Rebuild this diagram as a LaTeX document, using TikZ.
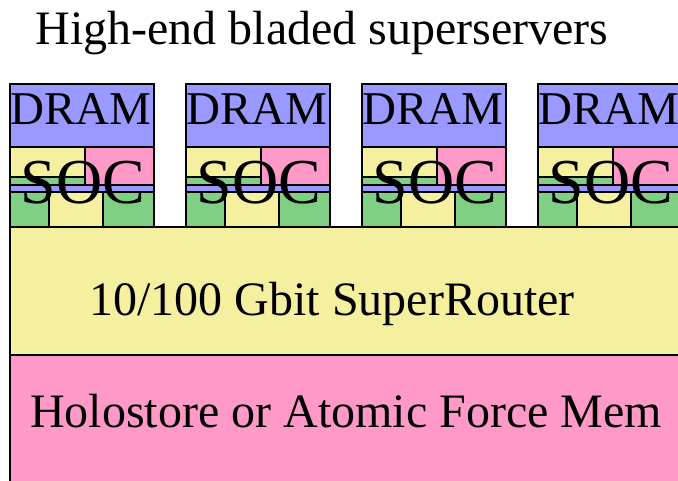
\documentclass[tikz,border=0pt]{standalone}
\usepackage{fontspec}
\setmainfont{Liberation Serif}
\definecolor{dramblue}{HTML}{9999FF}
\definecolor{socyellow}{HTML}{F5EFA0}
\definecolor{socpink}{HTML}{FF99C8}
\definecolor{socgreen}{HTML}{80D084}
\tikzset{
  cell/.style={draw=black, line width=1.1pt},
  bigtext/.style={inner sep=0pt, anchor=base, font=\fontsize{48}{56}\selectfont},
  dramtext/.style={inner sep=0pt, anchor=base, font=\fontsize{47}{54}\selectfont},
  soctext/.style={inner sep=0pt, anchor=base, font=\fontsize{64}{72}\selectfont},
}
\begin{document}
\begin{tikzpicture}[x=1pt, y=-1pt]
\useasboundingbox (0,0) rectangle (678,480);
\clip (0,0) rectangle (678,480);

% title
\node[bigtext] (title) at (322,44) {High-end bladed superservers};

% router and storage layers
\fill[socyellow] (10,227) rectangle (690,355);
\fill[socpink] (10,355) rectangle (690,490);
\draw[cell] (10,490) -- (10,227) -- (690,227);
\draw[cell] (10,355) -- (690,355);
\node[bigtext] (router) at (332,315) {10/100 Gbit SuperRouter};
\node[bigtext] (store) at (346,427) {Holostore or Atomic Force Mem};

% four blades, each a DRAM on top of a SOC
\foreach \i in {0,1,2,3} {
  \begin{scope}[xshift={176*\i}]
    % DRAM
    \draw[cell, fill=dramblue] (10,84) rectangle (154,147);
    % SOC upper half
    \draw[cell, fill=socyellow] (10,147) rectangle (85,177);
    \draw[cell, fill=socpink] (85,147) rectangle (154,185);
    \draw[cell, fill=socgreen] (10,177) rectangle (85,185);
    \draw[cell, fill=dramblue] (10,185) rectangle (154,192);
    % SOC lower row
    \draw[cell, fill=socgreen] (10,192) rectangle (49,227);
    \draw[cell, fill=socyellow] (49,192) rectangle (103,227);
    \draw[cell, fill=socgreen] (103,192) rectangle (154,227);
    \node[dramtext] (dram\i) at (81,124) {DRAM};
    \node[soctext] (soc\i) at (83,203) {SOC};
  \end{scope}
}
\end{tikzpicture}
\end{document}
